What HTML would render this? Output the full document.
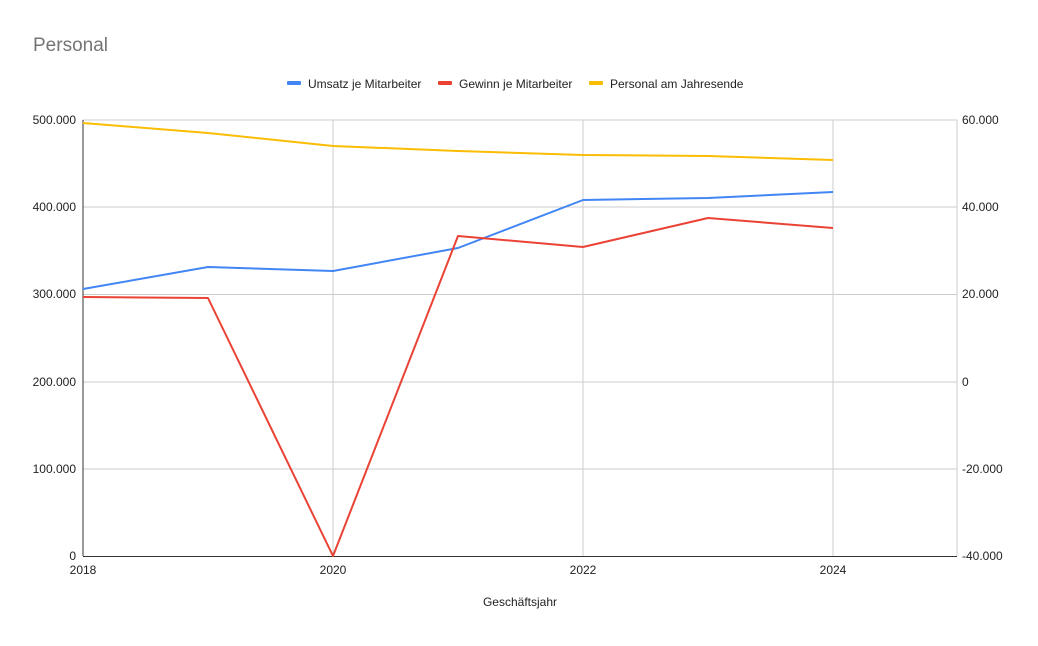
<!DOCTYPE html>
<html><head><meta charset="utf-8"><style>
html,body{margin:0;padding:0;background:#fff;}
svg text{font-family:"Liberation Sans",Arial,sans-serif;}
</style></head><body>
<svg width="1038" height="641" viewBox="0 0 1038 641" xmlns="http://www.w3.org/2000/svg">
<rect width="1038" height="641" fill="#fff"/>
<text x="33" y="51" font-size="19" fill="#757575">Personal</text>
<g font-size="12" fill="#222">
<rect x="287" y="81" width="14" height="4" rx="1" fill="#4285f4"/><text x="308" y="88">Umsatz je Mitarbeiter</text>
<rect x="438" y="81" width="14" height="4" rx="1" fill="#ea4335"/><text x="459" y="88">Gewinn je Mitarbeiter</text>
<rect x="589" y="81" width="14" height="4" rx="1" fill="#fbbc04"/><text x="610" y="88">Personal am Jahresende</text>
</g>
<g stroke="#cccccc" stroke-width="1">
<line x1="83" y1="120" x2="957" y2="120"/><line x1="83" y1="207" x2="957" y2="207"/>
<line x1="83" y1="294.5" x2="957" y2="294.5"/><line x1="83" y1="382" x2="957" y2="382"/>
<line x1="83" y1="469" x2="957" y2="469"/>
<line x1="333" y1="120" x2="333" y2="556"/><line x1="583" y1="120" x2="583" y2="556"/>
<line x1="833" y1="120" x2="833" y2="556"/><line x1="957" y1="120" x2="957" y2="556"/>
</g>
<line x1="83" y1="120" x2="83" y2="556" stroke="#333"/>
<line x1="83" y1="556.5" x2="957" y2="556.5" stroke="#333"/>
<g font-size="12" fill="#222" text-anchor="end">
<text x="76" y="124">500.000</text><text x="76" y="211">400.000</text><text x="76" y="298">300.000</text>
<text x="76" y="386">200.000</text><text x="76" y="473">100.000</text><text x="76" y="560">0</text>
</g>
<g font-size="12" fill="#222">
<text x="962" y="124">60.000</text><text x="962" y="211">40.000</text><text x="962" y="298">20.000</text>
<text x="962" y="386">0</text><text x="962" y="473">-20.000</text><text x="962" y="560">-40.000</text>
</g>
<g font-size="12" fill="#222" text-anchor="middle">
<text x="83" y="574">2018</text><text x="333" y="574">2020</text><text x="583" y="574">2022</text><text x="833" y="574">2024</text>
<text x="520" y="606">Geschäftsjahr</text>
</g>
<g fill="none" stroke-width="2" stroke-linejoin="round">
<polyline stroke="#fbbc04" points="83,123 208,133 333,146 458,151 583,155 708,156 833,160"/>
<polyline stroke="#4285f4" points="83,289 208,267 333,271 458,248 583,200 708,198 833,192"/>
<polyline stroke="#ea4335" points="83,297 208,298 333,556 458,236 583,247 708,218 833,228"/>
</g>
</svg>
</body></html>
